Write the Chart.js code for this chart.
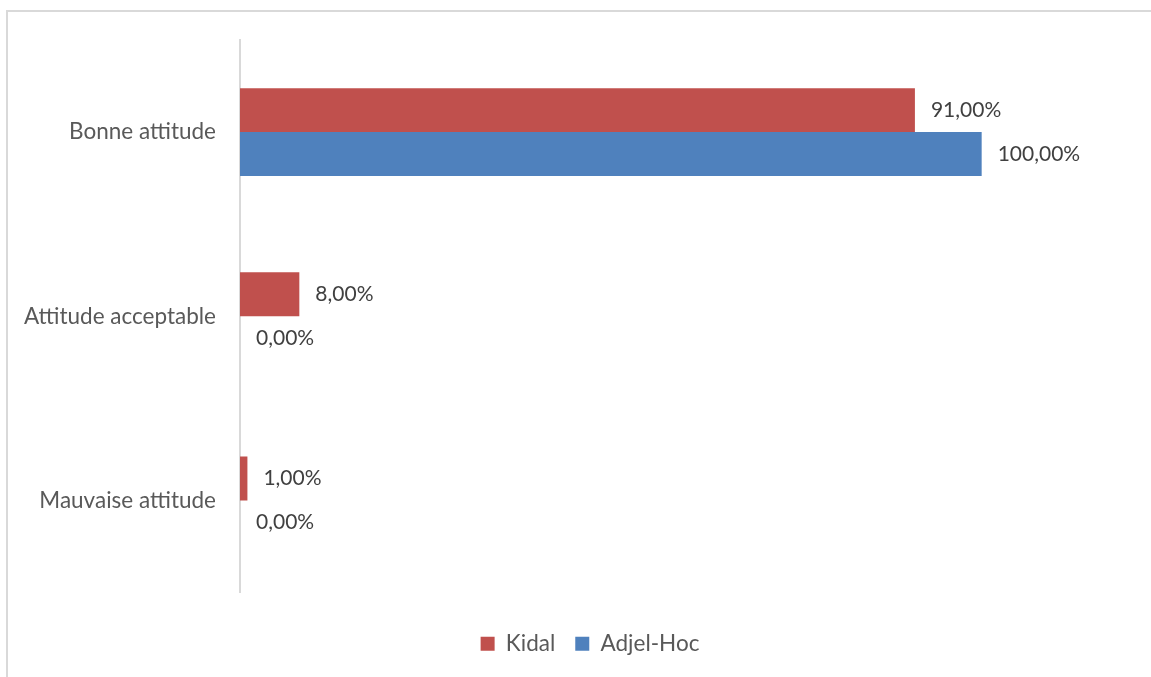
<!DOCTYPE html>
<html>
<head>
<meta charset="utf-8">
<script src="https://cdn.jsdelivr.net/npm/chart.js@4.4.1/dist/chart.umd.min.js"></script>
<style>
  html, body { margin: 0; padding: 0; background: #fff; }
  #wrap { position: relative; width: 1151px; height: 677px; overflow: hidden; }
  #frame { position: absolute; left: 6px; top: 10px; width: 1200px; height: 700px; border: 2px solid #d9d9d9; }
  #chart { position: absolute; left: 0; top: 0; }
</style>
</head>
<body>
<div id="wrap">
  <div id="frame"></div>
  <canvas id="chart" width="1151" height="677"></canvas>
</div>
<script>
// categories and series (percent)
const categories = ['Bonne attitude', 'Attitude acceptable', 'Mauvaise attitude'];
const kidal = [91, 8, 1];
const adjelHoc = [100, 0, 0];

const fontFamily = 'Lato, "Open Sans", sans-serif';

// draws the value next to each bar end
const valueLabels = {
    id: 'valueLabels',
    afterDatasetsDraw(chart) {
        const ctx = chart.ctx;
        ctx.save();
        ctx.font = '21px ' + fontFamily;
        ctx.fillStyle = '#404040';
        ctx.textAlign = 'left';
        ctx.textBaseline = 'middle';
        chart.data.datasets.forEach((ds, i) => {
            chart.getDatasetMeta(i).data.forEach((bar, j) => {
                const txt = ds.data[j].toFixed(2).replace('.', ',') + '%';
                ctx.fillText(txt, bar.x + 16, bar.y);
            });
        });
        ctx.restore();
    }
};

// legend in the original sits a bit right of the canvas centre
const legendShift = {
    id: 'legendShift',
    afterLayout(chart) {
        chart.legend.left += 25;
        chart.legend.right += 25;
    }
};

new Chart(document.getElementById('chart').getContext('2d'), {
    type: 'bar',
    data: {
        labels: categories,
        datasets: [{
            label: 'Kidal',
            data: kidal,
            backgroundColor: '#C0504D',
            categoryPercentage: 0.477,
            barPercentage: 1
        }, {
            label: 'Adjel-Hoc',
            data: adjelHoc,
            backgroundColor: '#4F81BD',
            categoryPercentage: 0.477,
            barPercentage: 1
        }]
    },
    options: {
        indexAxis: 'y',
        responsive: false,
        animation: false,
        layout: { padding: { top: 40, right: 21, bottom: 12, left: 0 } },
        scales: {
            x: {
                min: 0,
                max: 120,
                grid: { display: false },
                border: { display: false },
                ticks: { display: false },
                afterFit: function(scale) { scale.height = 20; }
            },
            y: {
                grid: { display: false, drawTicks: false },
                border: { display: true, color: '#d9d9d9', width: 2 },
                ticks: {
                    color: '#595959',
                    padding: 24,
                    font: { family: fontFamily, size: 22.5 }
                },
                afterFit: function(scale) { scale.width = 240; }
            }
        },
        plugins: {
            legend: {
                position: 'bottom',
                labels: {
                    boxWidth: 14,
                    boxHeight: 14,
                    padding: 20,
                    color: '#595959',
                    font: { family: fontFamily, size: 22.5 }
                }
            },
            tooltip: { enabled: false }
        }
    },
    plugins: [valueLabels, legendShift]
});
</script>
</body>
</html>
